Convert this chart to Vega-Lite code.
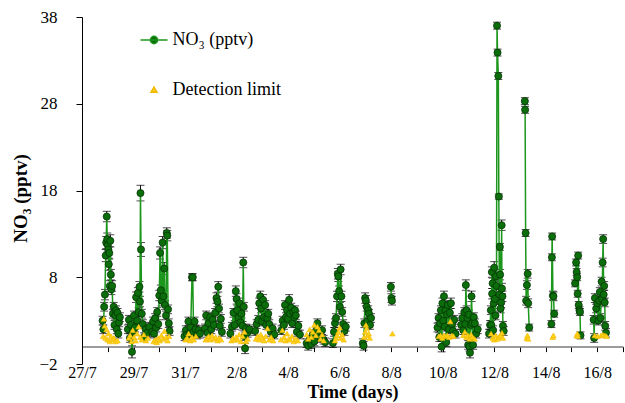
{
 "$schema": "https://vega.github.io/schema/vega-lite/v6.json",
 "width": 541,
 "height": 347,
 "autosize": {"type": "none"},
 "padding": {"left": 82, "top": 17, "right": 2, "bottom": 39},
 "background": "white",
 "config": {"view": {"stroke": null}, "font": "Liberation Serif"},
 "datasets": {
  "no3": [
   {"t":27.80,"v":3.0,"e":0.5,"g":"A"},{"t":27.83,"v":2.0,"e":0.5,"g":"A"},{"t":27.86,"v":4.6,"e":0.5,"g":"A"},{"t":27.89,"v":6.0,"e":0.6,"g":"A"},{"t":27.92,"v":10.5,"e":0.7,"g":"A"},{"t":27.94,"v":12.0,"e":0.7,"g":"A"},{"t":27.96,"v":15.0,"e":0.6,"g":"A"},{"t":27.98,"v":12.4,"e":0.7,"g":"A"},{"t":28.00,"v":11.7,"e":0.7,"g":"A"},{"t":28.02,"v":11.2,"e":0.7,"g":"A"},{"t":28.04,"v":9.5,"e":0.7,"g":"A"},{"t":28.06,"v":10.8,"e":0.7,"g":"A"},{"t":28.08,"v":7.0,"e":0.6,"g":"A"},{"t":28.10,"v":12.2,"e":0.7,"g":"A"},{"t":28.12,"v":8.3,"e":0.6,"g":"A"},{"t":28.14,"v":6.6,"e":0.6,"g":"A"},{"t":28.17,"v":7.0,"e":0.6,"g":"A"},{"t":28.20,"v":3.8,"e":0.5,"g":"A"},{"t":28.23,"v":4.6,"e":0.5,"g":"A"},{"t":28.26,"v":2.5,"e":0.5,"g":"A"},{"t":28.29,"v":3.6,"e":0.5,"g":"A"},{"t":28.32,"v":4.2,"e":0.5,"g":"A"},{"t":28.35,"v":2.0,"e":0.5,"g":"A"},{"t":28.38,"v":3.9,"e":0.5,"g":"A"},{"t":28.41,"v":1.5,"e":0.5,"g":"A"},{"t":28.44,"v":2.8,"e":0.5,"g":"A"},{"t":28.47,"v":3.4,"e":0.5,"g":"A"},
   {"t":28.78,"v":2.0,"e":0.5,"g":"B"},{"t":28.82,"v":3.1,"e":0.5,"g":"B"},{"t":28.86,"v":1.0,"e":0.5,"g":"B"},{"t":28.90,"v":2.5,"e":0.5,"g":"B"},{"t":28.94,"v":-0.6,"e":0.7,"g":"B"},{"t":28.98,"v":1.8,"e":0.5,"g":"B"},{"t":29.02,"v":3.6,"e":0.5,"g":"B"},{"t":29.06,"v":2.2,"e":0.5,"g":"B"},{"t":29.10,"v":5.7,"e":0.6,"g":"B"},{"t":29.14,"v":3.0,"e":0.5,"g":"B"},{"t":29.17,"v":6.2,"e":0.6,"g":"B"},{"t":29.20,"v":4.0,"e":0.5,"g":"B"},{"t":29.23,"v":6.9,"e":0.6,"g":"B"},{"t":29.25,"v":5.2,"e":0.6,"g":"B"},{"t":29.27,"v":17.7,"e":0.9,"g":"B"},{"t":29.29,"v":11.2,"e":0.8,"g":"B"},{"t":29.32,"v":3.8,"e":0.5,"g":"B"},{"t":29.36,"v":2.6,"e":0.5,"g":"B"},{"t":29.41,"v":1.1,"e":0.5,"g":"B"},{"t":29.47,"v":2.0,"e":0.5,"g":"B"},{"t":29.54,"v":1.6,"e":0.5,"g":"B"},{"t":29.61,"v":2.3,"e":0.5,"g":"B"},
   {"t":29.72,"v":1.7,"e":0.5,"g":"C"},{"t":29.76,"v":2.9,"e":0.5,"g":"C"},{"t":29.80,"v":1.5,"e":0.5,"g":"C"},{"t":29.84,"v":3.3,"e":0.5,"g":"C"},{"t":29.88,"v":2.2,"e":0.5,"g":"C"},{"t":29.92,"v":4.0,"e":0.5,"g":"C"},{"t":29.96,"v":2.6,"e":0.5,"g":"C"},{"t":30.00,"v":5.9,"e":0.6,"g":"C"},{"t":30.03,"v":10.8,"e":0.7,"g":"C"},{"t":30.06,"v":6.5,"e":0.6,"g":"C"},{"t":30.09,"v":5.3,"e":0.6,"g":"C"},{"t":30.13,"v":12.0,"e":0.7,"g":"C"},{"t":30.16,"v":5.8,"e":0.6,"g":"C"},{"t":30.19,"v":9.0,"e":0.7,"g":"C"},{"t":30.22,"v":4.8,"e":0.5,"g":"C"},{"t":30.26,"v":3.6,"e":0.5,"g":"C"},{"t":30.29,"v":13.1,"e":0.6,"g":"C"},{"t":30.31,"v":12.8,"e":0.6,"g":"C"},{"t":30.34,"v":4.3,"e":0.5,"g":"C"},{"t":30.37,"v":2.7,"e":0.5,"g":"C"},{"t":30.40,"v":1.8,"e":0.5,"g":"C"},
   {"t":30.98,"v":1.2,"e":0.5,"g":"D"},{"t":31.03,"v":1.9,"e":0.5,"g":"D"},{"t":31.08,"v":1.4,"e":0.5,"g":"D"},{"t":31.13,"v":2.9,"e":0.5,"g":"D"},{"t":31.18,"v":1.6,"e":0.5,"g":"D"},{"t":31.22,"v":2.2,"e":0.5,"g":"D"},{"t":31.27,"v":8.0,"e":0.4,"g":"D"},{"t":31.30,"v":8.0,"e":0.4,"g":"D"},{"t":31.33,"v":1.7,"e":0.5,"g":"D"},{"t":31.37,"v":2.9,"e":0.5,"g":"D"},{"t":31.41,"v":2.0,"e":0.5,"g":"D"},{"t":31.47,"v":1.4,"e":0.5,"g":"D"},{"t":31.53,"v":1.9,"e":0.5,"g":"D"},{"t":31.58,"v":1.5,"e":0.5,"g":"D"},
   {"t":31.77,"v":2.1,"e":0.5,"g":"E"},{"t":31.82,"v":3.6,"e":0.5,"g":"E"},{"t":31.87,"v":1.6,"e":0.5,"g":"E"},{"t":31.92,"v":2.7,"e":0.5,"g":"E"},{"t":31.97,"v":3.4,"e":0.5,"g":"E"},{"t":32.02,"v":2.0,"e":0.5,"g":"E"},{"t":32.07,"v":3.1,"e":0.5,"g":"E"},{"t":32.12,"v":2.5,"e":0.5,"g":"E"},{"t":32.17,"v":3.9,"e":0.5,"g":"E"},{"t":32.22,"v":5.6,"e":0.6,"g":"E"},{"t":32.26,"v":5.2,"e":0.6,"g":"E"},{"t":32.29,"v":6.9,"e":0.6,"g":"E"},{"t":32.32,"v":4.4,"e":0.5,"g":"E"},{"t":32.35,"v":2.4,"e":0.5,"g":"E"},{"t":32.39,"v":3.2,"e":0.5,"g":"E"},{"t":32.43,"v":1.7,"e":0.5,"g":"E"},
   {"t":32.76,"v":1.5,"e":0.5,"g":"F"},{"t":32.82,"v":2.3,"e":0.5,"g":"F"},{"t":32.88,"v":3.9,"e":0.5,"g":"F"},{"t":32.93,"v":2.5,"e":0.5,"g":"F"},{"t":32.97,"v":6.4,"e":0.6,"g":"F"},{"t":33.00,"v":5.5,"e":0.6,"g":"F"},{"t":33.03,"v":4.2,"e":0.5,"g":"F"},{"t":33.07,"v":3.3,"e":0.5,"g":"F"},{"t":33.11,"v":5.0,"e":0.6,"g":"F"},{"t":33.15,"v":2.8,"e":0.5,"g":"F"},{"t":33.19,"v":3.8,"e":0.5,"g":"F"},{"t":33.23,"v":2.4,"e":0.5,"g":"F"},{"t":33.26,"v":9.7,"e":0.6,"g":"F"},{"t":33.28,"v":4.6,"e":0.5,"g":"F"},{"t":33.31,"v":1.2,"e":0.5,"g":"F"},{"t":33.33,"v":-0.2,"e":0.6,"g":"F"},{"t":33.37,"v":2.1,"e":0.5,"g":"F"},{"t":33.43,"v":1.6,"e":0.5,"g":"F"},{"t":33.50,"v":2.0,"e":0.5,"g":"F"},
   {"t":33.72,"v":1.8,"e":0.5,"g":"G"},{"t":33.78,"v":2.6,"e":0.5,"g":"G"},{"t":33.84,"v":3.1,"e":0.5,"g":"G"},{"t":33.88,"v":5.0,"e":0.6,"g":"G"},{"t":33.92,"v":5.8,"e":0.6,"g":"G"},{"t":33.95,"v":4.4,"e":0.5,"g":"G"},{"t":33.99,"v":2.9,"e":0.5,"g":"G"},{"t":34.03,"v":5.4,"e":0.6,"g":"G"},{"t":34.07,"v":3.4,"e":0.5,"g":"G"},{"t":34.11,"v":4.8,"e":0.5,"g":"G"},{"t":34.15,"v":2.5,"e":0.5,"g":"G"},{"t":34.19,"v":3.3,"e":0.5,"g":"G"},{"t":34.23,"v":3.8,"e":0.5,"g":"G"},{"t":34.27,"v":2.6,"e":0.5,"g":"G"},{"t":34.33,"v":1.7,"e":0.5,"g":"G"},{"t":34.40,"v":2.1,"e":0.5,"g":"G"},{"t":34.47,"v":1.4,"e":0.5,"g":"G"},
   {"t":34.74,"v":1.9,"e":0.5,"g":"H"},{"t":34.79,"v":3.0,"e":0.5,"g":"H"},{"t":34.84,"v":2.5,"e":0.5,"g":"H"},{"t":34.88,"v":4.8,"e":0.5,"g":"H"},{"t":34.92,"v":3.4,"e":0.5,"g":"H"},{"t":34.96,"v":4.2,"e":0.5,"g":"H"},{"t":35.00,"v":3.2,"e":0.5,"g":"H"},{"t":35.04,"v":5.4,"e":0.6,"g":"H"},{"t":35.08,"v":3.8,"e":0.5,"g":"H"},{"t":35.12,"v":4.5,"e":0.5,"g":"H"},{"t":35.16,"v":2.7,"e":0.5,"g":"H"},{"t":35.20,"v":4.0,"e":0.5,"g":"H"},{"t":35.24,"v":3.4,"e":0.5,"g":"H"},{"t":35.27,"v":4.2,"e":0.5,"g":"H"},{"t":35.30,"v":3.6,"e":0.5,"g":"H"},{"t":35.34,"v":1.7,"e":0.5,"g":"H"},{"t":35.40,"v":2.4,"e":0.5,"g":"H"},{"t":35.46,"v":1.4,"e":0.5,"g":"H"},
   {"t":35.72,"v":0.4,"e":0.5,"g":"I"},{"t":35.78,"v":0.1,"e":0.5,"g":"I"},{"t":35.84,"v":0.8,"e":0.5,"g":"I"},{"t":35.90,"v":0.3,"e":0.5,"g":"I"},{"t":35.96,"v":1.4,"e":0.5,"g":"I"},{"t":36.02,"v":0.6,"e":0.5,"g":"I"},{"t":36.08,"v":1.8,"e":0.5,"g":"I"},{"t":36.14,"v":2.7,"e":0.5,"g":"I"},{"t":36.20,"v":1.5,"e":0.5,"g":"I"},{"t":36.26,"v":1.0,"e":0.5,"g":"I"},{"t":36.32,"v":1.9,"e":0.5,"g":"I"},{"t":36.38,"v":0.8,"e":0.5,"g":"I"},{"t":36.44,"v":0.5,"e":0.5,"g":"I"},
   {"t":36.74,"v":0.4,"e":0.5,"g":"J"},{"t":36.78,"v":1.7,"e":0.5,"g":"J"},{"t":36.82,"v":2.7,"e":0.5,"g":"J"},{"t":36.86,"v":3.3,"e":0.5,"g":"J"},{"t":36.90,"v":5.8,"e":0.6,"g":"J"},{"t":36.93,"v":8.4,"e":0.6,"g":"J"},{"t":36.95,"v":8.1,"e":0.6,"g":"J"},{"t":36.98,"v":6.4,"e":0.6,"g":"J"},{"t":37.01,"v":4.6,"e":0.5,"g":"J"},{"t":37.04,"v":8.9,"e":0.6,"g":"J"},{"t":37.07,"v":5.8,"e":0.6,"g":"J"},{"t":37.10,"v":4.0,"e":0.5,"g":"J"},{"t":37.14,"v":2.6,"e":0.5,"g":"J"},{"t":37.19,"v":1.8,"e":0.5,"g":"J"},{"t":37.24,"v":2.3,"e":0.5,"g":"J"},
   {"t":37.90,"v":0.4,"e":0.5,"g":"K"},{"t":37.93,"v":0.1,"e":0.5,"g":"K"},{"t":37.96,"v":2.7,"e":0.5,"g":"K"},{"t":37.99,"v":5.6,"e":0.6,"g":"K"},{"t":38.02,"v":5.3,"e":0.6,"g":"K"},{"t":38.05,"v":4.6,"e":0.5,"g":"K"},{"t":38.08,"v":2.9,"e":0.5,"g":"K"},{"t":38.11,"v":4.2,"e":0.5,"g":"K"},{"t":38.14,"v":3.8,"e":0.5,"g":"K"},{"t":38.18,"v":2.5,"e":0.5,"g":"K"},{"t":38.22,"v":3.3,"e":0.5,"g":"K"},
   {"t":38.99,"v":6.9,"e":0.5,"g":"L"},{"t":39.01,"v":5.6,"e":0.5,"g":"L"},{"t":39.03,"v":5.3,"e":0.5,"g":"L"},
   {"t":40.80,"v":2.2,"e":0.5,"g":"M"},{"t":40.84,"v":3.3,"e":0.5,"g":"M"},{"t":40.87,"v":1.1,"e":0.5,"g":"M"},{"t":40.90,"v":2.7,"e":0.5,"g":"M"},{"t":40.93,"v":4.2,"e":0.5,"g":"M"},{"t":40.96,"v":0.0,"e":0.6,"g":"M"},{"t":40.99,"v":5.0,"e":0.6,"g":"M"},{"t":41.02,"v":3.0,"e":0.5,"g":"M"},{"t":41.05,"v":5.8,"e":0.6,"g":"M"},{"t":41.08,"v":2.3,"e":0.5,"g":"M"},{"t":41.11,"v":4.2,"e":0.5,"g":"M"},{"t":41.14,"v":0.5,"e":0.5,"g":"M"},{"t":41.17,"v":3.7,"e":0.5,"g":"M"},{"t":41.20,"v":4.8,"e":0.5,"g":"M"},{"t":41.24,"v":2.0,"e":0.5,"g":"M"},{"t":41.28,"v":3.9,"e":0.5,"g":"M"},{"t":41.32,"v":5.0,"e":0.6,"g":"M"},{"t":41.36,"v":2.6,"e":0.5,"g":"M"},{"t":41.40,"v":1.8,"e":0.5,"g":"M"},{"t":41.45,"v":3.1,"e":0.5,"g":"M"},{"t":41.50,"v":1.5,"e":0.5,"g":"M"},
   {"t":41.72,"v":2.5,"e":0.5,"g":"N"},{"t":41.76,"v":3.3,"e":0.5,"g":"N"},{"t":41.80,"v":1.9,"e":0.5,"g":"N"},{"t":41.84,"v":4.0,"e":0.5,"g":"N"},{"t":41.88,"v":2.6,"e":0.5,"g":"N"},{"t":41.90,"v":7.1,"e":0.6,"g":"N"},{"t":41.93,"v":4.2,"e":0.5,"g":"N"},{"t":41.96,"v":3.3,"e":0.5,"g":"N"},{"t":41.99,"v":0.2,"e":0.5,"g":"N"},{"t":42.02,"v":3.7,"e":0.5,"g":"N"},{"t":42.04,"v":0.0,"e":0.5,"g":"N"},{"t":42.06,"v":-0.7,"e":0.6,"g":"N"},{"t":42.09,"v":2.5,"e":0.5,"g":"N"},{"t":42.12,"v":5.8,"e":0.6,"g":"N"},{"t":42.15,"v":2.7,"e":0.5,"g":"N"},{"t":42.18,"v":0.2,"e":0.5,"g":"N"},{"t":42.21,"v":3.4,"e":0.5,"g":"N"},{"t":42.25,"v":2.7,"e":0.5,"g":"N"},{"t":42.30,"v":1.5,"e":0.5,"g":"N"},{"t":42.36,"v":2.0,"e":0.5,"g":"N"},
   {"t":42.80,"v":1.5,"e":0.5,"g":"O"},{"t":42.84,"v":2.5,"e":0.5,"g":"O"},{"t":42.87,"v":4.2,"e":0.5,"g":"O"},{"t":42.89,"v":2.5,"e":0.5,"g":"O"},{"t":42.91,"v":8.6,"e":0.6,"g":"O"},{"t":42.92,"v":6.1,"e":0.6,"g":"O"},{"t":42.94,"v":7.3,"e":0.6,"g":"O"},{"t":42.96,"v":1.9,"e":0.5,"g":"O"},{"t":42.98,"v":5.0,"e":0.6,"g":"O"},{"t":43.00,"v":9.1,"e":0.7,"g":"O"},{"t":43.03,"v":5.5,"e":0.6,"g":"O"},{"t":43.05,"v":3.6,"e":0.5,"g":"O"},{"t":43.07,"v":8.1,"e":0.6,"g":"O"},{"t":43.09,"v":7.0,"e":0.6,"g":"O"},{"t":43.11,"v":37.0,"e":0.4,"g":"O"},{"t":43.13,"v":33.9,"e":0.4,"g":"O"},{"t":43.16,"v":31.2,"e":0.4,"g":"O"},{"t":43.18,"v":17.3,"e":0.3,"g":"O"},{"t":43.20,"v":6.0,"e":0.6,"g":"O"},{"t":43.22,"v":11.5,"e":0.4,"g":"O"},{"t":43.23,"v":8.3,"e":0.6,"g":"O"},{"t":43.25,"v":4.4,"e":0.5,"g":"O"},{"t":43.27,"v":5.1,"e":0.6,"g":"O"},{"t":43.29,"v":14.0,"e":0.6,"g":"O"},{"t":43.30,"v":6.7,"e":0.6,"g":"O"},{"t":43.32,"v":5.8,"e":0.6,"g":"O"},{"t":43.34,"v":2.4,"e":0.5,"g":"O"},{"t":43.37,"v":1.8,"e":0.5,"g":"O"},
   {"t":44.19,"v":28.3,"e":0.4,"g":"P"},{"t":44.20,"v":27.3,"e":0.4,"g":"P"},{"t":44.22,"v":13.1,"e":0.4,"g":"P"},{"t":44.24,"v":5.3,"e":0.5,"g":"P"},{"t":44.27,"v":7.1,"e":0.5,"g":"P"},{"t":44.30,"v":8.4,"e":0.5,"g":"P"},{"t":44.32,"v":5.0,"e":0.5,"g":"P"},{"t":44.36,"v":2.2,"e":0.4,"g":"P"},
   {"t":45.22,"v":2.6,"e":0.4,"g":"Q"},{"t":45.24,"v":10.3,"e":0.4,"g":"Q"},{"t":45.25,"v":12.7,"e":0.4,"g":"Q"},{"t":45.28,"v":5.9,"e":0.5,"g":"Q"},{"t":45.30,"v":5.8,"e":0.5,"g":"Q"},{"t":45.33,"v":3.8,"e":0.4,"g":"Q"},
   {"t":46.14,"v":7.3,"e":0.4,"g":"R"},{"t":46.18,"v":9.7,"e":0.4,"g":"R"},{"t":46.20,"v":8.6,"e":0.4,"g":"R"},{"t":46.22,"v":8.0,"e":0.4,"g":"R"},{"t":46.24,"v":6.1,"e":0.4,"g":"R"},{"t":46.26,"v":10.5,"e":0.4,"g":"R"},{"t":46.28,"v":4.8,"e":0.4,"g":"R"},{"t":46.31,"v":4.2,"e":0.4,"g":"R"},{"t":46.33,"v":4.0,"e":0.4,"g":"R"},{"t":46.35,"v":1.3,"e":0.4,"g":"R"},
   {"t":46.86,"v":3.1,"e":0.5,"g":"S"},{"t":46.88,"v":1.0,"e":0.5,"g":"S"},{"t":46.91,"v":5.6,"e":0.5,"g":"S"},{"t":46.96,"v":4.4,"e":0.5,"g":"S"},{"t":47.00,"v":5.0,"e":0.5,"g":"S"},{"t":47.04,"v":3.0,"e":0.5,"g":"S"},{"t":47.08,"v":5.3,"e":0.5,"g":"S"},{"t":47.10,"v":6.3,"e":0.5,"g":"S"},{"t":47.13,"v":3.3,"e":0.5,"g":"S"},{"t":47.17,"v":7.5,"e":0.5,"g":"S"},{"t":47.19,"v":5.5,"e":0.5,"g":"S"},{"t":47.21,"v":9.7,"e":0.5,"g":"S"},{"t":47.23,"v":12.4,"e":0.5,"g":"S"},{"t":47.25,"v":6.0,"e":0.5,"g":"S"},{"t":47.27,"v":7.0,"e":0.5,"g":"S"},{"t":47.29,"v":5.1,"e":0.5,"g":"S"},{"t":47.31,"v":2.4,"e":0.5,"g":"S"},{"t":47.34,"v":1.6,"e":0.5,"g":"S"}
  ],
  "dl": [
   {"t":27.82,"v":1.2},{"t":27.85,"v":3.2},{"t":27.88,"v":2.4},{"t":27.91,"v":1.0},{"t":27.95,"v":2.0},{"t":27.99,"v":0.8},{"t":28.03,"v":1.5},{"t":28.08,"v":0.6},{"t":28.13,"v":1.2},{"t":28.18,"v":0.8},{"t":28.24,"v":1.0},{"t":28.30,"v":0.6},{"t":28.38,"v":0.7},
   {"t":28.82,"v":1.0},{"t":28.87,"v":1.3},{"t":28.92,"v":0.6},{"t":28.97,"v":1.9},{"t":29.02,"v":1.1},{"t":29.08,"v":0.7},{"t":29.14,"v":1.5},{"t":29.20,"v":2.3},{"t":29.26,"v":1.1},{"t":29.32,"v":0.8},{"t":29.40,"v":1.4},{"t":29.48,"v":0.7},{"t":29.56,"v":1.0},
   {"t":29.78,"v":0.6},{"t":29.84,"v":0.8},{"t":29.90,"v":0.5},{"t":29.96,"v":1.0},{"t":30.02,"v":0.7},{"t":30.08,"v":1.3},{"t":30.14,"v":0.9},{"t":30.20,"v":1.8},{"t":30.26,"v":1.1},{"t":30.32,"v":0.7},{"t":30.38,"v":1.2},
   {"t":31.02,"v":0.8},{"t":31.08,"v":1.0},{"t":31.14,"v":1.5},{"t":31.20,"v":0.7},{"t":31.27,"v":1.1},{"t":31.34,"v":0.8},{"t":31.42,"v":1.2},
   {"t":31.80,"v":0.8},{"t":31.86,"v":1.0},{"t":31.92,"v":1.2},{"t":31.98,"v":0.8},{"t":32.05,"v":1.3},{"t":32.12,"v":0.9},{"t":32.19,"v":1.1},{"t":32.26,"v":0.7},{"t":32.33,"v":1.0},{"t":32.40,"v":0.8},
   {"t":32.80,"v":0.7},{"t":32.86,"v":1.0},{"t":32.92,"v":0.8},{"t":32.98,"v":1.1},{"t":33.04,"v":0.8},{"t":33.10,"v":1.4},{"t":33.17,"v":0.6},{"t":33.23,"v":1.2},{"t":33.30,"v":1.7},{"t":33.36,"v":0.6},{"t":33.43,"v":0.9},
   {"t":33.75,"v":0.9},{"t":33.82,"v":1.2},{"t":33.88,"v":0.8},{"t":33.94,"v":1.4},{"t":34.00,"v":1.0},{"t":34.07,"v":0.7},{"t":34.13,"v":1.2},{"t":34.20,"v":2.1},{"t":34.27,"v":0.8},{"t":34.34,"v":1.1},{"t":34.42,"v":0.7},
   {"t":34.72,"v":0.8},{"t":34.78,"v":1.9},{"t":34.84,"v":1.1},{"t":34.90,"v":0.7},{"t":34.96,"v":1.5},{"t":35.02,"v":0.9},{"t":35.08,"v":0.8},{"t":35.15,"v":1.2},{"t":35.22,"v":0.6},{"t":35.30,"v":0.9},{"t":35.38,"v":0.7},
   {"t":35.72,"v":1.4},{"t":35.78,"v":0.9},{"t":35.84,"v":2.0},{"t":35.90,"v":1.1},{"t":35.96,"v":1.7},{"t":36.02,"v":2.5},{"t":36.08,"v":1.3},{"t":36.14,"v":2.3},{"t":36.20,"v":1.9},{"t":36.26,"v":0.9},{"t":36.32,"v":1.4},{"t":36.38,"v":0.7},
   {"t":36.82,"v":0.7},{"t":36.86,"v":1.0},{"t":36.90,"v":1.3},{"t":36.95,"v":1.7},{"t":37.00,"v":2.2},{"t":37.05,"v":1.0},{"t":37.10,"v":1.4},{"t":37.16,"v":0.8},
   {"t":37.95,"v":1.1},{"t":37.99,"v":1.7},{"t":38.02,"v":2.5},{"t":38.05,"v":2.1},{"t":38.09,"v":1.3},{"t":38.13,"v":1.5},{"t":38.17,"v":1.0},
   {"t":39.05,"v":1.5},
   {"t":40.85,"v":1.2},{"t":40.92,"v":1.3},{"t":40.98,"v":1.0},{"t":41.05,"v":1.3},{"t":41.12,"v":1.2},{"t":41.18,"v":1.3},{"t":41.25,"v":1.1},{"t":41.30,"v":2.9},{"t":41.36,"v":1.3},{"t":41.42,"v":1.2},
   {"t":41.80,"v":1.3},{"t":41.86,"v":1.7},{"t":41.92,"v":1.1},{"t":41.98,"v":1.3},{"t":42.04,"v":0.9},{"t":42.10,"v":1.4},{"t":42.16,"v":1.1},{"t":42.24,"v":0.9},
   {"t":42.88,"v":1.5},{"t":42.94,"v":1.0},{"t":43.00,"v":0.8},{"t":43.06,"v":1.3},{"t":43.12,"v":0.9},{"t":43.18,"v":1.1},{"t":43.24,"v":1.3},{"t":43.30,"v":1.6},{"t":43.34,"v":1.0},
   {"t":44.26,"v":1.0},{"t":44.29,"v":1.3},{"t":44.32,"v":0.9},
   {"t":45.27,"v":1.1},{"t":45.30,"v":1.3},
   {"t":46.20,"v":1.3},{"t":46.23,"v":1.5},{"t":46.25,"v":1.2},
   {"t":46.90,"v":1.3},{"t":47.02,"v":1.2},{"t":47.15,"v":1.3},{"t":47.22,"v":1.4},{"t":47.30,"v":1.3},{"t":47.36,"v":1.2}
  ],
  "leg": [{"series": "NO₃ (pptv)"}, {"series": "Detection limit"}]
 },
 "encoding": {
  "x": {
   "field": "t", "type": "quantitative",
   "scale": {"domain": [27, 48], "nice": false, "zero": false},
   "axis": {
    "title": "Time (days)",
    "values": [27,28,29,30,31,32,33,34,35,36,37,38,39,40,41,42,43,44,45,46,47,48],
    "labelExpr": "datum.value % 2 == 1 ? (datum.value <= 31 ? datum.value + '/7' : (datum.value - 31) + '/8') : ''",
    "offset": -17.4, "tickSize": 5, "tickColor": "black", "tickWidth": 1,
    "domainColor": "#7a7a7a", "domainWidth": 1.5,
    "labelPadding": 13, "labelFontSize": 16, "labelColor": "black", "labelFont": "Liberation Serif",
    "labelFlush": false, "labelOverlap": false, "labelBound": false,
    "titleFontSize": 18, "titleFontWeight": "bold", "titleColor": "black", "titleFont": "Liberation Serif",
    "titleY": 51, "titleBaseline": "alphabetic", "grid": false
   }
  },
  "y": {
   "field": "v", "type": "quantitative",
   "scale": {"domain": [-2, 38], "nice": false, "zero": false},
   "axis": {
    "title": "NO₃ (pptv)",
    "values": [-2, 8, 18, 28, 38],
    "tickSize": 6, "tickColor": "black", "domainColor": "black", "domainWidth": 1,
    "labelPadding": 19, "labelFontSize": 17, "labelColor": "black", "labelFont": "Liberation Serif", "labelFlush": false,
    "titleFontSize": 19, "titleFontWeight": "bold", "titleColor": "black", "titleFont": "Liberation Serif",
    "titleX": -62, "titleY": 181, "titleAngle": -90, "titleAlign": "center", "titleBaseline": "middle",
    "grid": false
   }
  }
 },
 "layer": [
  {
   "data": {"name": "no3"},
   "mark": {"type": "errorbar", "ticks": {"size": 8}, "color": "black", "thickness": 1},
   "encoding": {"yError": {"field": "e"}}
  },
  {
   "data": {"name": "no3"},
   "mark": {"type": "line", "color": "#1c961c", "strokeWidth": 1.5},
   "encoding": {"detail": {"field": "g"}}
  },
  {
   "data": {"name": "no3"},
   "mark": {"type": "point", "shape": "circle", "filled": true, "fill": "#0b6e0b", "stroke": "#053305", "strokeWidth": 0.8, "size": 50, "opacity": 1},
   "encoding": {}
  },
  {
   "data": {"name": "dl"},
   "mark": {"type": "point", "shape": "triangle-up", "filled": true, "fill": "#ffd21a", "stroke": "#f0b800", "strokeWidth": 0.6, "size": 30, "opacity": 1},
   "encoding": {}
  },
  {
   "data": {"name": "leg"},
   "mark": {"type": "point", "filled": true, "strokeWidth": 1.5, "size": 729, "opacity": 1},
   "encoding": {
    "shape": {"field": "series", "type": "nominal",
     "scale": {"domain": ["NO₃ (pptv)", "Detection limit"], "range": ["M-1,0L1,0M0.27,0A0.27,0.27,0,1,1,-0.27,0A0.27,0.27,0,1,1,0.27,0Z", "M0,-0.22L0.22,0.17L-0.22,0.17Z"]},
     "legend": {"orient": "none", "legendX": 57.5, "legendY": 8.5, "title": null, "padding": 0, "symbolSize": 729, "symbolStrokeWidth": 1.5, "labelFontSize": 18, "labelFont": "Liberation Serif", "labelColor": "black", "labelOffset": 4, "rowPadding": 26}},
    "fill": {"field": "series", "type": "nominal",
     "scale": {"domain": ["NO₃ (pptv)", "Detection limit"], "range": ["#0b6e0b", "#ffd21a"]},
     "legend": {"orient": "none", "legendX": 57.5, "legendY": 8.5, "title": null, "padding": 0, "symbolSize": 729, "symbolStrokeWidth": 1.5, "labelFontSize": 18, "labelFont": "Liberation Serif", "labelColor": "black", "labelOffset": 4, "rowPadding": 26}},
    "stroke": {"field": "series", "type": "nominal",
     "scale": {"domain": ["NO₃ (pptv)", "Detection limit"], "range": ["#1c961c", "#f0b800"]},
     "legend": {"orient": "none", "legendX": 57.5, "legendY": 8.5, "title": null, "padding": 0, "symbolSize": 729, "symbolStrokeWidth": 1.5, "labelFontSize": 18, "labelFont": "Liberation Serif", "labelColor": "black", "labelOffset": 4, "rowPadding": 26}}
   }
  }
 ]
}
